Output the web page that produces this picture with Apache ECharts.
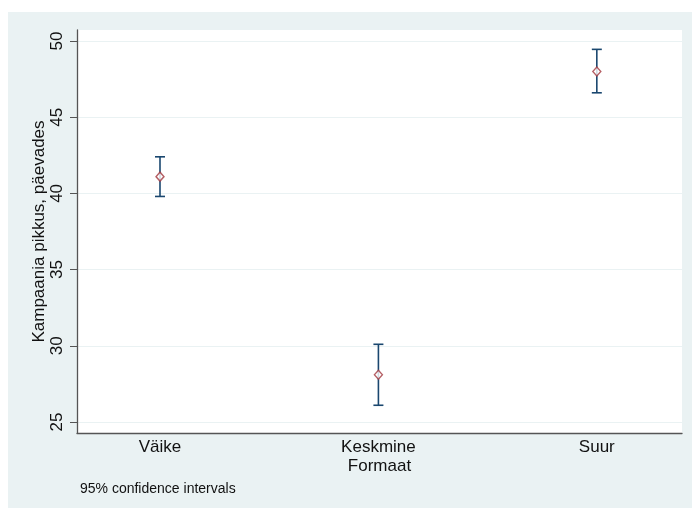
<!DOCTYPE html>
<html>
<head>
<meta charset="utf-8">
<script src="https://cdn.jsdelivr.net/npm/echarts@6/dist/echarts.min.js"></script>
<style>
  html, body { margin: 0; padding: 0; background: #ffffff; }
  #chart { width: 692px; height: 508px; }
</style>
</head>
<body>
<div id="chart"></div>
<script>
// Campaign length by format: means with 95% confidence intervals
const categories = ['Väike', 'Keskmine', 'Suur'];
const means = [41.1, 28.1, 48.0];
const lower = [39.8, 26.1, 46.6];
const upper = [42.4, 30.1, 49.45];
const yTicks = [25, 30, 35, 40, 45, 50];
const xPositions = [1, 2, 3];

const BG = '#eaf2f3';
const BAR = '#1a476f';
const MARK = '#a3383f';
const FONT = '"Liberation Sans", Arial, sans-serif';

const chart = echarts.init(document.getElementById('chart'), null, { renderer: 'canvas' });

const ciData = xPositions.map((x, i) => [x, lower[i], upper[i]]);
const meanData = xPositions.map((x, i) => [x, means[i]]);

chart.setOption({
  animation: false,
  backgroundColor: '#ffffff',
  graphic: [{
    type: 'rect', z: -10, silent: true,
    shape: { x: 8, y: 12, width: 684, height: 496 },
    style: { fill: BG }
  }, {
    type: 'text', left: 80, top: 482, silent: true,
    style: { text: '95% confidence intervals', fontFamily: FONT, fontSize: 14, fill: '#111' }
  }],
  grid: {
    left: 77, top: 30, width: 605, height: 403,
    show: true, backgroundColor: '#ffffff', borderWidth: 0
  },
  xAxis: {
    type: 'value', min: 0.62, max: 3.39,
    name: 'Formaat', nameLocation: 'middle', nameGap: 25, nameMoveOverlap: false,
    nameTextStyle: { fontFamily: FONT, fontSize: 17, color: '#111' },
    axisLine: { show: true, lineStyle: { color: '#555', width: 1.3 } },
    axisTick: { show: false },
    splitLine: { show: false },
    axisLabel: {
      customValues: xPositions,
      formatter: v => categories[Math.round(v) - 1] || '',
      fontFamily: FONT, fontSize: 17, color: '#111', margin: 6
    }
  },
  yAxis: {
    type: 'value', min: 24.28, max: 50.72,
    name: 'Kampaania pikkus, päevades', nameLocation: 'middle', nameRotate: 90,
    nameGap: 29, nameMoveOverlap: false,
    nameTextStyle: { fontFamily: FONT, fontSize: 17, color: '#111' },
    axisLine: { show: true, lineStyle: { color: '#555', width: 1.3 } },
    axisTick: { show: true, customValues: yTicks, length: 7, lineStyle: { color: '#555', width: 1 } },
    splitLine: { show: true, lineStyle: { color: BG, width: 1.2 } },
    axisLabel: {
      customValues: yTicks, rotate: 90,
      fontFamily: FONT, fontSize: 17, color: '#111', margin: 11
    }
  },
  series: [
    {
      type: 'custom',
      data: ciData,
      encode: { x: 0, y: [1, 2] },
      renderItem: (params, api) => {
        const x = api.value(0);
        const lo = api.coord([x, api.value(1)]);
        const hi = api.coord([x, api.value(2)]);
        const hw = 5;
        const style = { stroke: BAR, lineWidth: 1.6, fill: null };
        return {
          type: 'group',
          children: [
            { type: 'line', shape: { x1: lo[0], y1: lo[1], x2: hi[0], y2: hi[1] }, style },
            { type: 'line', shape: { x1: lo[0] - hw, y1: lo[1], x2: lo[0] + hw, y2: lo[1] }, style },
            { type: 'line', shape: { x1: hi[0] - hw, y1: hi[1], x2: hi[0] + hw, y2: hi[1] }, style }
          ]
        };
      },
      z: 2
    },
    {
      type: 'scatter',
      data: meanData,
      symbol: 'diamond',
      symbolSize: [8, 9],
      itemStyle: { color: '#ffffff', borderColor: MARK, borderWidth: 1.4 },
      z: 3
    }
  ]
});
</script>
</body>
</html>
